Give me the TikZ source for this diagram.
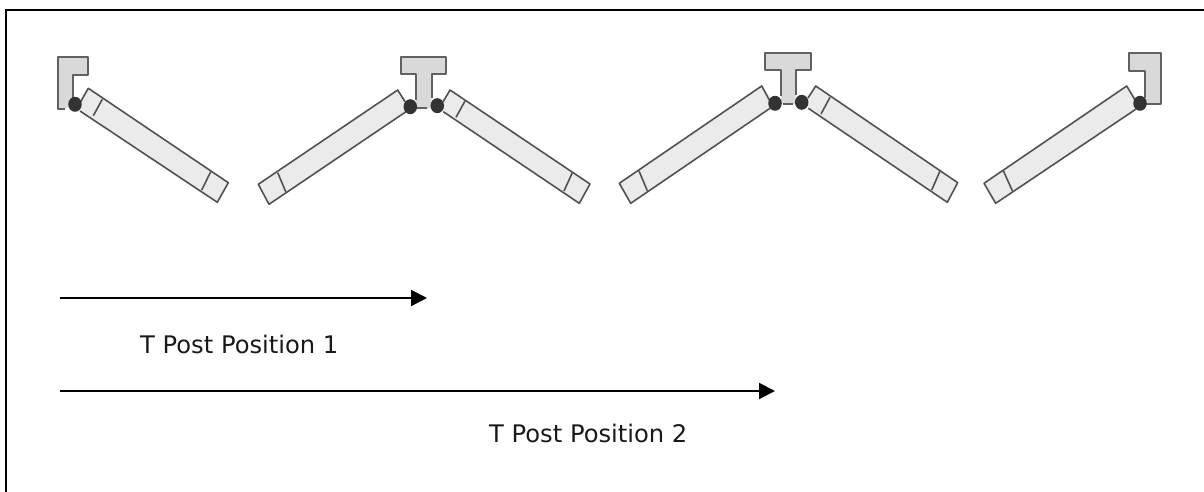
\documentclass[tikz,border=0pt]{standalone}
\usepackage{fontspec}
\setmainfont{DejaVu Sans}
\usetikzlibrary{arrows.meta,shapes.geometric}
\tikzset{
  x=1pt,y=-1pt,
  frameline/.style={draw=black,line width=2pt},
  post/.style={fill=black!15},
  postedge/.style={draw=black!62,line width=1.8pt,line join=round},
  panel/.style={fill=black!8},
  panelline/.style={draw=black!68,line width=1.6pt,line join=round},
  pivot/.style={ellipse,fill=black!80,draw=none,minimum width=13.5pt,minimum height=15pt,inner sep=0pt},
  travel/.style={draw=black,line width=2pt,-{Triangle[length=16pt,width=16pt]}},
  caption/.style={font=\fontsize{24.2}{28}\selectfont,inner sep=0pt,anchor=base west,text=black!90}
}
\begin{document}
\begin{tikzpicture}
\useasboundingbox (0,0) rectangle (1204,492);
\draw[frameline] (6,492) -- (6,10) -- (1204,10);

% --- panel 1
\fill[panel] (88.3,88.3) -- (228.3,182.7) -- (217.3,202.3) -- (80,111) -- (75,104) -- cycle;
\draw[panelline] (80,103) -- (88.3,88.3) -- (228.3,182.7) -- (217.3,202.3) -- (80,111);
\draw[panelline] (102.3,99.3) -- (93.3,115.7);
\draw[panelline] (210.7,171.7) -- (201.7,190);
% end post left
\fill[post] (58.3,57.3) -- (88.3,57.3) -- (88.3,75) -- (72.7,75) -- (72.7,104) -- (65,109) -- (58.3,109) -- cycle;
\draw[postedge] (72.7,98) -- (72.7,75) -- (88.3,75) -- (88.3,57.3) -- (58.3,57.3) -- (58.3,109) -- (65,109);
\node[pivot] (d1) at (75,104.3) {};

% --- panel 2
\fill[panel] (397.7,90) -- (258.3,184.3) -- (269,204.3) -- (406,111.7) -- (410,105) -- cycle;
\draw[panelline] (405,101.7) -- (397.7,90) -- (258.3,184.3) -- (269,204.3) -- (406,111.7);
\draw[panelline] (277.7,172.7) -- (286,192.3);
% --- panel 3
\fill[panel] (450,90) -- (590,184) -- (579.3,203.3) -- (443.3,111.7) -- (438,105) -- cycle;
\draw[panelline] (443,102) -- (450,90) -- (590,184) -- (579.3,203.3) -- (443.3,111.7);
\draw[panelline] (465,101) -- (456,117.3);
\draw[panelline] (572.3,172.7) -- (564,191);
% T post 1
\fill[post] (401,57.3) -- (445.7,57.3) -- (445.7,74.3) -- (431.7,74.3) -- (431.7,108.3) -- (415.7,108.3) -- (415.7,74.3) -- (401,74.3) -- cycle;
\draw[postedge] (415.7,100) -- (415.7,74.3) -- (401,74.3) -- (401,57.3) -- (445.7,57.3) -- (445.7,74.3) -- (431.7,74.3) -- (431.7,98);
\draw[postedge] (415.7,108.3) -- (426.7,108.3);
\node[pivot] (d2) at (410.3,106.7) {};
\node[pivot] (d3) at (437.3,105.7) {};

% --- panel 4
\fill[panel] (761.7,86) -- (619.3,183.3) -- (630.7,203.3) -- (770,108.3) -- (775,103) -- cycle;
\draw[panelline] (769.3,100) -- (761.7,86) -- (619.3,183.3) -- (630.7,203.3) -- (770,108.3);
\draw[panelline] (639,171) -- (647.3,190.7);
% --- panel 5
\fill[panel] (815.7,86) -- (957.7,182.7) -- (947.3,202.3) -- (808.3,108.3) -- (802,102) -- cycle;
\draw[panelline] (808,98) -- (815.7,86) -- (957.7,182.7) -- (947.3,202.3) -- (808.3,108.3);
\draw[panelline] (830,97.3) -- (821,114);
\draw[panelline] (940,171) -- (931.7,190);
% T post 2
\fill[post] (765,53.3) -- (810.7,53.3) -- (810.7,70) -- (795.7,70) -- (795.7,104.3) -- (781,104.3) -- (781,70) -- (765,70) -- cycle;
\draw[postedge] (781,96) -- (781,70) -- (765,70) -- (765,53.3) -- (810.7,53.3) -- (810.7,70) -- (795.7,70) -- (795.7,95);
\draw[postedge] (783,104.3) -- (793,104.3);
\node[pivot] (d4) at (775,103.3) {};
\node[pivot] (d5) at (801.7,102.3) {};

% --- panel 6
\fill[panel] (1126.7,86) -- (984,183.3) -- (995.7,203.3) -- (1135.7,109.3) -- (1140,103) -- cycle;
\draw[panelline] (1135,100) -- (1126.7,86) -- (984,183.3) -- (995.7,203.3) -- (1135.7,109.3);
\draw[panelline] (1003.3,170.7) -- (1012.3,190.7);
% end post right
\fill[post] (1129.3,52.7) -- (1160.7,52.7) -- (1160.7,104.3) -- (1140,104.3) -- (1145,98) -- (1145,70.7) -- (1129.3,70.7) -- cycle;
\draw[postedge] (1145,98) -- (1145,70.7) -- (1129.3,70.7) -- (1129.3,52.7) -- (1160.7,52.7) -- (1160.7,104.3) -- (1142,104.3);
\node[pivot] (d6) at (1140,103.3) {};

% --- arrows and captions
\coordinate (a1s) at (60,298);
\coordinate (a1e) at (427,298);
\coordinate (a2s) at (60,391);
\coordinate (a2e) at (775,391);
\draw[travel] (a1s) -- (a1e);
\draw[travel] (a2s) -- (a2e);
\node[caption] (t1) at (140,353) {T Post Position 1};
\node[caption] (t2) at (489,442) {T Post Position 2};
\end{tikzpicture}
\end{document}
